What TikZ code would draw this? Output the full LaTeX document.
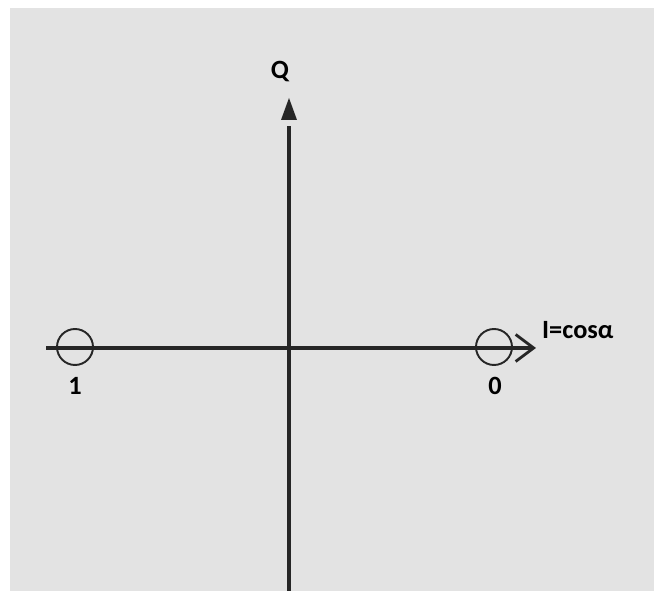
\documentclass[tikz,border=0pt]{standalone}
\usepackage{fontspec}
\setmainfont{Carlito}
\usetikzlibrary{arrows.meta,positioning}

\begin{document}
\begin{tikzpicture}[x=0.02cm, y=-0.02cm,
    every node/.style={font=\fontsize{15}{18}\selectfont\bfseries},
    axis/.style={draw=black!85, line width=2.2pt},
    ring/.style={draw=black!85, circle, line width=1.1pt, minimum size=0.72cm, inner sep=0pt}]
    \useasboundingbox (0,0) rectangle (657,591);
    \fill[gray!22] (10,8) rectangle (654,591);
    % axes
    \coordinate (qbot) at (289,591);
    \coordinate (qend) at (289,126);
    \coordinate (qtip) at (289,98);
    \coordinate (ileft) at (46,348);
    \coordinate (iright) at (536,348);
    \draw[axis] (qbot) -- (qend);
    \fill[black!85] (qtip) -- ++(-8,22) -- ++(16,0) -- cycle;
    \draw[axis, -{Straight Barb[length=0.36cm, width=0.54cm, line width=1.6pt]}] (ileft) -- (iright);
    % rings on the I axis
    \node (one) [ring] at (75,347) {};
    \node (zero) [ring] at (494,347) {};
    % labels
    \node (q) at (280,72) {Q};
    \node (ilbl) [anchor=west] at (536,330) {I=cosα};
    \node (onelbl) at (75,386) {1};
    \node (zerolbl) at (495,386) {0};
\end{tikzpicture}
\end{document}
